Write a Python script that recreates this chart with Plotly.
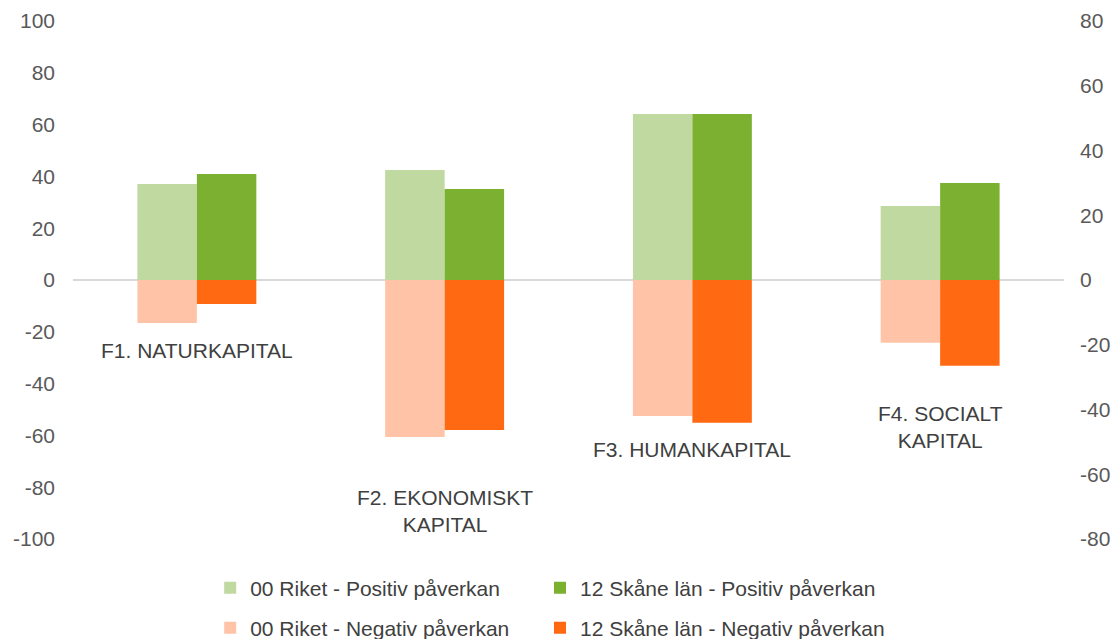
import plotly.graph_objects as go

categories = ["F1", "F2", "F3", "F4"]
category_labels = ["F1. NATURKAPITAL", "F2. EKONOMISKT<br>KAPITAL", "F3. HUMANKAPITAL", "F4. SOCIALT<br>KAPITAL"]
label_y = [-27.4, -89.2, -65.3, -56.8]

# Positive impact (left axis)
riket_pos = [37.1, 42.5, 64.1, 28.6]
skane_pos = [40.9, 35.1, 64.1, 37.5]
# Negative impact (right axis)
riket_neg = [-13.3, -48.5, -42.0, -19.4]
skane_neg = [-7.4, -46.3, -44.1, -26.5]

left_ticks = [100, 80, 60, 40, 20, 0, -20, -40, -60, -80, -100]
right_ticks = [80, 60, 40, 20, 0, -20, -40, -60, -80]

C_LG = "#bfd9a0"
C_DG = "#7bb031"
C_LO = "#ffc4a7"
C_DO = "#ff6911"

FONT = "Liberation Sans, Arial, sans-serif"
FS = 21

fig = go.Figure()
fig.add_trace(go.Bar(x=categories, y=riket_pos, name="00 Riket - Positiv påverkan",
                     marker=dict(color=C_LG, line=dict(width=0)), yaxis="y", legend="legend"))
fig.add_trace(go.Bar(x=categories, y=skane_pos, name="12 Skåne län - Positiv påverkan",
                     marker=dict(color=C_DG, line=dict(width=0)), yaxis="y", legend="legend3"))
fig.add_trace(go.Bar(x=categories, y=riket_neg, name="00 Riket - Negativ påverkan",
                     marker=dict(color=C_LO, line=dict(width=0)), yaxis="y2", legend="legend2"))
fig.add_trace(go.Bar(x=categories, y=skane_neg, name="12 Skåne län - Negativ påverkan",
                     marker=dict(color=C_DO, line=dict(width=0)), yaxis="y2", legend="legend4"))

for cat, lab, ly in zip(categories, category_labels, label_y):
    fig.add_annotation(x=cat, y=ly, xref="x", yref="y", text=lab, showarrow=False,
                       font=dict(family=FONT, size=FS, color="#404040"), align="center")

legend_common = dict(orientation="h", xanchor="left", yanchor="middle",
                     xref="container", yref="container",
                     font=dict(family=FONT, size=FS, color="#404040"),
                     itemwidth=30, bgcolor="rgba(0,0,0,0)", tracegroupgap=0)

fig.update_layout(
    width=1115, height=639,
    margin=dict(l=73, r=51, t=21, b=100),
    paper_bgcolor="white", plot_bgcolor="white",
    barmode="group", bargap=0.52, bargroupgap=0,
    showlegend=True,
    legend=dict(x=0.1885, y=0.0798, **legend_common),
    legend2=dict(x=0.1885, y=0.0172, **legend_common),
    legend3=dict(x=0.4843, y=0.0798, **legend_common),
    legend4=dict(x=0.4843, y=0.0172, **legend_common),
    xaxis=dict(showticklabels=False, showgrid=False, zeroline=False, showline=False,
               ticks="", automargin=False),
    yaxis=dict(range=[-100, 100], tickvals=left_ticks, ticktext=[str(v) for v in left_ticks],
               showgrid=False, zeroline=True, zerolinecolor="#d9d9d9", zerolinewidth=2,
               tickfont=dict(family=FONT, size=FS, color="#595959"),
               ticklabelstandoff=17, showline=False, ticks="", automargin=False),
    yaxis2=dict(range=[-80, 80], tickvals=right_ticks, ticktext=[str(v) for v in right_ticks],
                overlaying="y", side="right",
                showgrid=False, zeroline=False, showline=False, ticks="",
                tickfont=dict(family=FONT, size=FS, color="#595959"),
                ticklabelstandoff=15, automargin=False),
)

fig.write_html("out.html", config={"displayModeBar": False},
               post_script="document.body.style.margin='0px';document.body.style.padding='0px';")
